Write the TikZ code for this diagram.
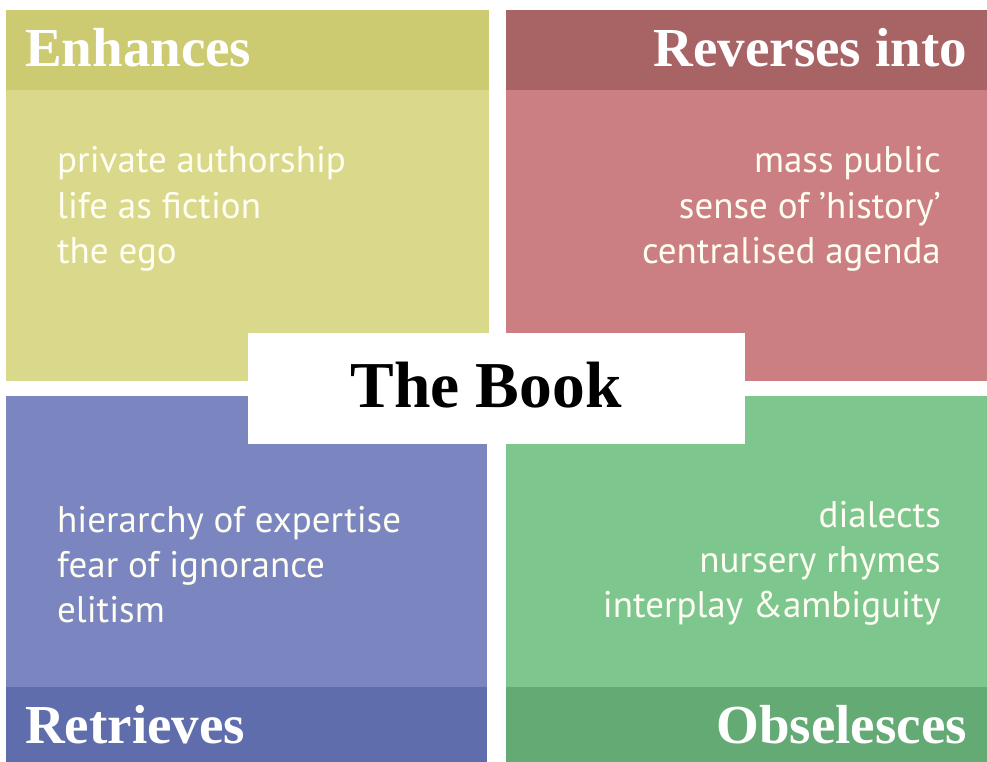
\documentclass[tikz,border=0pt]{standalone}
\usepackage{fontspec}
\setmainfont{PT Sans}
\newfontfamily\headfont{Liberation Serif}
\definecolor{yelHead}{HTML}{CCCB72}
\definecolor{yelBody}{HTML}{DAD88A}
\definecolor{redHead}{HTML}{A86365}
\definecolor{redBody}{HTML}{CB7F82}
\definecolor{bluBody}{HTML}{7B86C1}
\definecolor{bluHead}{HTML}{5F6DAD}
\definecolor{grnBody}{HTML}{7DC78F}
\definecolor{grnHead}{HTML}{64AA75}
\tikzset{
  heading/.style={font=\headfont\fontsize{55}{60}\selectfont\bfseries, text=white, inner sep=0pt},
  itemtext/.style={font=\fontsize{37}{45}\selectfont, text=white!95!yellow, inner sep=0pt, align=#1},
  title/.style={font=\headfont\fontsize{65.5}{70}\selectfont\bfseries, text=black, inner sep=0pt}
}
\begin{document}
\begin{tikzpicture}[x=1pt,y=-1pt]
\useasboundingbox (0,0) rectangle (987,762);
\fill[white] (0,0) rectangle (987,762);
% quadrant panels
\fill[yelBody] (6,10) rectangle (489,381);
\fill[yelHead] (6,10) rectangle (489,90);
\fill[redBody] (506,10) rectangle (987,381);
\fill[redHead] (506,10) rectangle (987,90);
\fill[bluBody] (6,396) rectangle (487,762);
\fill[bluHead] (6,687) rectangle (487,762);
\fill[grnBody] (506,396) rectangle (987,762);
\fill[grnHead] (506,687) rectangle (987,762);
% central label
\fill[white] (248,333) rectangle (745,444);
\node[title, anchor=base] (book) at (486,407) {The Book};
% headings
\node[heading, anchor=base west] (enh) at (25,67) {Enhances};
\node[heading, anchor=base east] (rev) at (967,67) {Reverses into};
\node[heading, anchor=base west] (ret) at (25,743) {Retrieves};
\node[heading, anchor=base east] (obs) at (967,743) {Obselesces};
% lists
\node[itemtext=left, anchor=base west] (l1) at (57,173) {private authorship};
\node[itemtext=left, anchor=base west] (l2) at (57,218) {life as fiction};
\node[itemtext=left, anchor=base west] (l3) at (57,263) {the ego};
\node[itemtext=right, anchor=base east] (r1) at (941,173) {mass public};
\node[itemtext=right, anchor=base east] (r2) at (941,218) {sense of ’history’};
\node[itemtext=right, anchor=base east] (r3) at (941,263) {centralised agenda};
\node[itemtext=left, anchor=base west] (b1) at (57,532) {hierarchy of expertise};
\node[itemtext=left, anchor=base west] (b2) at (57,577) {fear of ignorance};
\node[itemtext=left, anchor=base west] (b3) at (57,622) {elitism};
\node[itemtext=right, anchor=base east] (g1) at (941,527) {dialects};
\node[itemtext=right, anchor=base east] (g2) at (941,572) {nursery rhymes};
\node[itemtext=right, anchor=base east] (g3) at (941,617) {interplay \&ambiguity};
\end{tikzpicture}
\end{document}
